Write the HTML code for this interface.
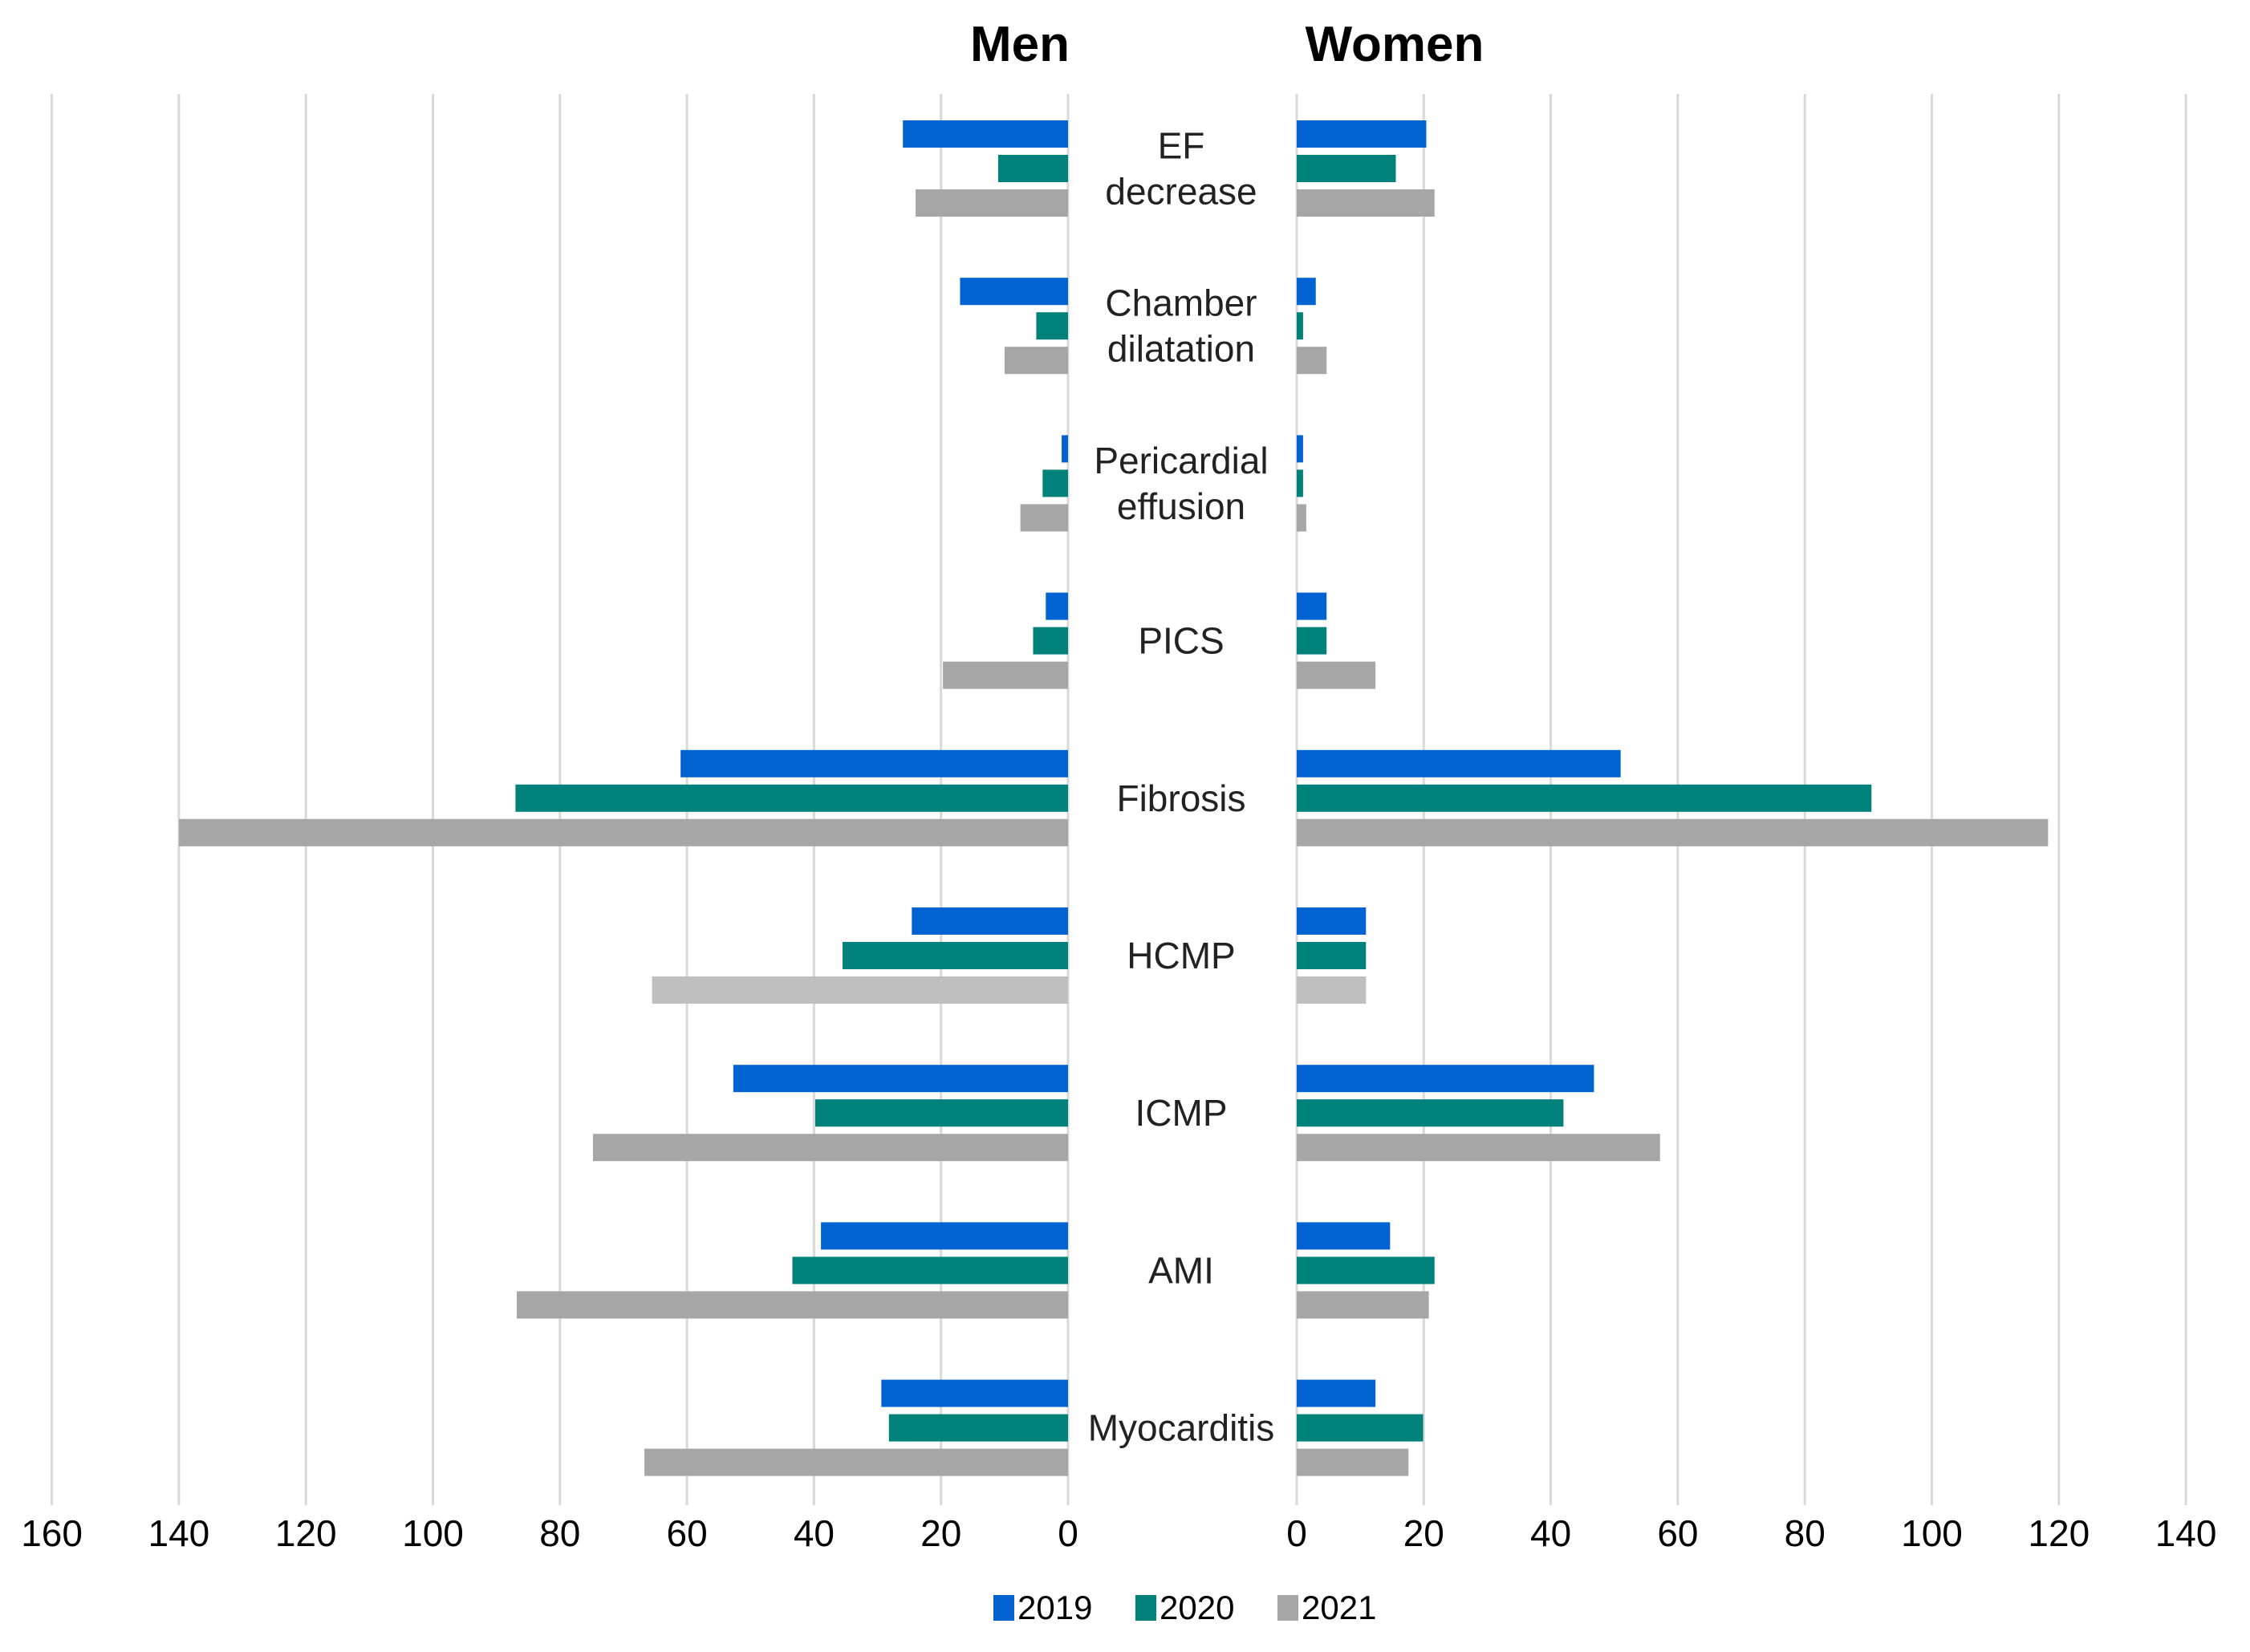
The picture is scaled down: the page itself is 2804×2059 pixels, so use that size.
<!DOCTYPE html>
<html><head><meta charset="utf-8"><style>
html,body{margin:0;padding:0;background:#fff}
svg{display:block}
text{font-family:"Liberation Sans",Arial,sans-serif}
</style></head><body>
<svg id="chart" width="2804" height="2059" viewBox="0 0 2804 2059">
<g id="grid"></g>
<g id="bars"></g>
<g id="labels"></g>
<g id="ticks"></g>
<text x="1271" y="76" text-anchor="middle" font-size="62" font-weight="bold">Men</text>
<text x="1738" y="76" text-anchor="middle" font-size="62" font-weight="bold">Women</text>
<g>
<g><rect x="1238" y="1988" width="26" height="32" fill="#0063d1"/><text x="1268" y="2018" font-size="42">2019</text></g>
<g><rect x="1415" y="1988" width="26" height="32" fill="#00827a"/><text x="1445" y="2018" font-size="42">2020</text></g>
<g><rect x="1592" y="1988" width="26" height="32" fill="#a6a6a6"/><text x="1622" y="2018" font-size="42">2021</text></g>
</g>
</svg>
<script>
const categories=[["EF","decrease"],["Chamber","dilatation"],["Pericardial","effusion"],["PICS"],["Fibrosis"],["HCMP"],["ICMP"],["AMI"],["Myocarditis"]];
const men2019=[26,17,1,3.5,61,24.6,52.7,38.9,29.4];
const men2020=[11,5,4,5.5,87,35.5,39.8,43.4,28.2];
const men2021=[24,10,7.5,19.7,140,65.5,74.8,86.8,66.7];
const women2019=[20.4,3,1,4.7,51,10.9,46.8,14.7,12.4];
const women2020=[15.6,1,1,4.7,90.5,10.9,42,21.7,19.9];
const women2021=[21.7,4.7,1.5,12.4,118.3,10.9,57.2,20.8,17.6];
const leftTicks=[0,20,40,60,80,100,120,140,160];
const rightTicks=[0,20,40,60,80,100,120,140];
const NS="http://www.w3.org/2000/svg";
const L0=1331,R0=1616,PX=7.915;
function xl(v){return L0-v*PX;}
function xr(v){return R0+v*PX;}
function yc(i){return 210+i*196.2;}
function mk(t,a){const e=document.createElementNS(NS,t);for(const k in a)e.setAttribute(k,a[k]);return e;}
const grid=document.getElementById('grid'),bars=document.getElementById('bars'),labels=document.getElementById('labels'),ticks=document.getElementById('ticks');
leftTicks.forEach(v=>{
 const l=mk('line',{x1:xl(v),x2:xl(v),y1:117,y2:1876,stroke:'#d9d9d9','stroke-width':3});
 
 
 grid.appendChild(l);
 const t=mk('text',{x:xl(v),y:1927,'text-anchor':'middle','font-size':46});
 t.textContent=v;
 
 
 ticks.appendChild(t);
});
rightTicks.forEach(v=>{
 const l=mk('line',{x1:xr(v),x2:xr(v),y1:117,y2:1876,stroke:'#d9d9d9','stroke-width':3});
 
 
 grid.appendChild(l);
 const t=mk('text',{x:xr(v),y:1927,'text-anchor':'middle','font-size':46});
 t.textContent=v;
 
 
 ticks.appendChild(t);
});
const series=[[men2019,women2019,'#0063d1',-43],[men2020,women2020,'#00827a',0],[men2021,women2021,'#a6a6a6',43]];
const H=34;
categories.forEach((c,i)=>{
 series.forEach((s,k)=>{
  const y=yc(i)+s[3]-H/2;
  const col=(k===2&&i===5)?'#bfbfbf':s[2];
  const bm=mk('rect',{x:xl(s[0][i]),y:y,width:s[0][i]*PX,height:H,fill:col});
  
  
  bars.appendChild(bm);
  const bw=mk('rect',{x:R0,y:y,width:s[1][i]*PX,height:H,fill:col});
  
  
  bars.appendChild(bw);
 });
 const n=c.length;
 c.forEach((w,j)=>{
  const t=mk('text',{x:1472,y:yc(i)+16+(j-(n-1)/2)*57,'text-anchor':'middle','font-size':46,fill:'#222'});
  t.textContent=w;
  
  
  labels.appendChild(t);
 });
});
</script>
</body></html>
